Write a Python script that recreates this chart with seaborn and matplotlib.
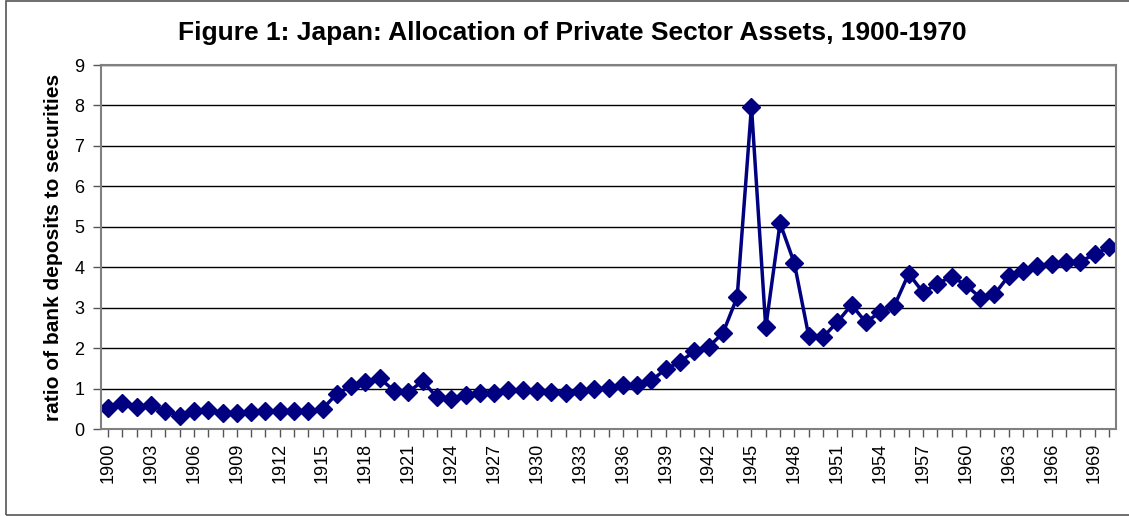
import matplotlib
matplotlib.use("Agg")
import matplotlib.pyplot as plt
import seaborn as sns
import pandas as pd
from matplotlib.patches import Rectangle

years = list(range(1900, 1971))
ratio = [
    0.53, 0.65, 0.55, 0.59, 0.45, 0.33, 0.45, 0.47, 0.39, 0.40,
    0.43, 0.44, 0.45, 0.45, 0.45, 0.50, 0.87, 1.06, 1.16, 1.25,
    0.95, 0.91, 1.19, 0.78, 0.74, 0.83, 0.89, 0.90, 0.97, 0.97,
    0.93, 0.91, 0.89, 0.95, 0.98, 1.01, 1.10, 1.09, 1.20, 1.48,
    1.66, 1.92, 2.03, 2.37, 3.26, 7.97, 2.51, 5.09, 4.10, 2.31,
    2.27, 2.64, 3.07, 2.64, 2.89, 3.05, 3.84, 3.38, 3.59, 3.77,
    3.56, 3.25, 3.33, 3.79, 3.91, 4.04, 4.07, 4.12, 4.14, 4.32,
    4.49,
]
tick_labels = [str(y) for y in range(1900, 1970, 3)]
title = "Figure 1: Japan: Allocation of Private Sector Assets, 1900-1970"
ylabel = "ratio of bank deposits to securities"

df = pd.DataFrame({"year": years, "ratio": ratio})

sns.set_theme(style="white")
plt.rcParams["font.family"] = ["Liberation Sans", "DejaVu Sans"]
plt.rcParams["text.color"] = "black"
plt.rcParams["axes.labelcolor"] = "black"
plt.rcParams["xtick.color"] = "black"
plt.rcParams["ytick.color"] = "black"

fig = plt.figure(figsize=(11.29, 5.16), dpi=100)
ax = fig.add_axes([101 / 1129, 1 - 429 / 516, (1116 - 101) / 1129, (429 - 65) / 516])

# outer chart border
fig.patches.append(Rectangle((6 / 1129, 1 - 515 / 516), 1.2, 514 / 516,
                             transform=fig.transFigure, fill=False,
                             edgecolor="#555555", linewidth=1.2))

navy = "#000080"
sns.lineplot(data=df, x="year", y="ratio", ax=ax, color=navy, linewidth=2.5,
             marker="D", markersize=9.5, markeredgecolor=navy, markeredgewidth=1)

ax.set_xlim(1899.5, 1970.5)
ax.set_ylim(0, 9)
ax.set_yticks(range(0, 10))
ax.set_yticklabels([str(i) for i in range(0, 10)], fontsize=13)
ax.set_xticks(years, minor=True)
ax.set_xticks(range(1900, 1970, 3))
ax.set_xticklabels(tick_labels, rotation=90, fontsize=13)
ax.tick_params(axis="x", which="both", direction="out", length=6, width=1,
               color="#555555", bottom=True, pad=4, labelcolor="black")
ax.tick_params(axis="y", direction="out", length=6, width=1, color="#555555",
               left=True, pad=6, labelcolor="black")
ax.yaxis.grid(True, color="black", linewidth=1)
ax.set_axisbelow(True)
for s in ["top", "right", "left", "bottom"]:
    ax.spines[s].set_color("#808080")
    ax.spines[s].set_linewidth(1.5)
ax.set_xlabel("")
ax.set_ylabel(ylabel, fontsize=15, fontweight="bold", labelpad=8, color="black")

fig.text(572 / 1129, 1 - 33 / 516, title, ha="center", va="center",
         fontsize=19, fontweight="bold", color="black")

fig.savefig("out.png", dpi=100)
